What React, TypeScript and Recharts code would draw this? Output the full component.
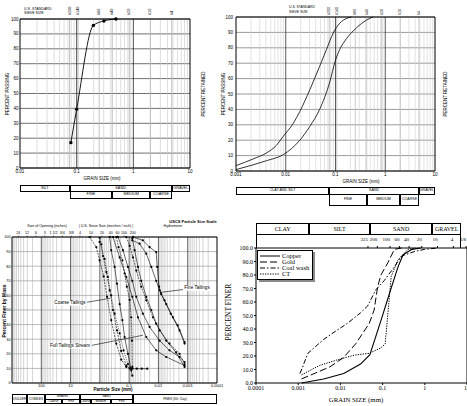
import React from 'react'
import { LineChart, Line, XAxis, YAxis, CartesianGrid, ReferenceLine, Legend } from 'recharts'

const SANS = '"Liberation Sans", Arial, Helvetica, sans-serif'
const SERIF = '"Liberation Serif", "Times New Roman", Times, serif'

// ── shared ───────────────────────────────────────────────────────────────────
type Pair = [number, number]
const PCT_TICKS = [0, 10, 20, 30, 40, 50, 60, 70, 80, 90, 100]

// ── top-left: single sample gradation ────────────────────────────────────────
const SIEVE_MM = [0.075, 0.106, 0.25, 0.425, 0.85, 2, 4.75]
const SIEVE_NAMES = ['#200', '#140', '#60', '#40', '#20', '#10', '#4']
const TL_X_TICKS = [0.01, 0.1, 1, 10]
const TL_SAMPLE: Pair[] = [[0.079, 17], [0.1, 39.5], [0.197, 95.7], [0.303, 98.7], [0.493, 100]]

// ── top-right: two gradation curves ──────────────────────────────────────────
const TR_X_TICKS = [0.001, 0.01, 0.1, 1, 10]
const TR_FINE: Pair[] = [
  [0.001, 3.5], [0.0022, 7.8], [0.0041, 11.7], [0.0065, 16.7], [0.0089, 22.5], [0.0142, 31],
  [0.0192, 38.7], [0.0305, 52.8], [0.048, 68], [0.066, 79], [0.09, 89.6], [0.122, 96],
  [0.17, 99.2], [0.21, 100],
]
const TR_COARSE: Pair[] = [
  [0.001, 0.9], [0.0022, 4], [0.0041, 6.7], [0.0089, 10.6], [0.0192, 20], [0.0305, 29],
  [0.048, 40], [0.077, 58], [0.098, 71], [0.122, 79], [0.167, 86], [0.265, 93], [0.42, 98],
  [0.57, 100],
]

// ── bottom-left: tailings, USCS scale (reversed axis) ────────────────────────
const BL_X_TICKS = [100, 10, 0.1, 0.01, 0.001, 0.0001]
const OPENING_MM = [609.6, 304.8, 152.4, 76.2, 38.1, 19.05, 9.525, 4.75, 2, 0.85, 0.425, 0.25, 0.15, 0.075]
const OPENING_LABELS = ['24', '12', '6', '3', '1 1/2', '3/4', '3/8', '4', '10', '20', '40', '60', '100', '200']
const COARSE_1: Pair[] = [[2.23, 100], [1.32, 93], [1.02, 84], [0.74, 73], [0.57, 59], [0.41, 43], [0.275, 27], [0.186, 16], [0.125, 11]]
const COARSE_2: Pair[] = [[1.02, 99.5], [0.89, 95], [0.78, 87], [0.6, 76], [0.46, 63.5], [0.357, 50], [0.26, 36], [0.186, 22], [0.125, 12], [0.096, 10]]
const COARSE_3: Pair[] = [[1.02, 96.6], [0.69, 85], [0.53, 72.6], [0.41, 60], [0.313, 47.5], [0.211, 34], [0.155, 22.4], [0.11, 13], [0.085, 10]]
const COARSE_4: Pair[] = [[0.46, 100], [0.41, 91], [0.313, 79.5], [0.26, 68], [0.211, 54], [0.17, 43], [0.143, 31.5], [0.11, 20], [0.085, 8.7], [0.078, 5]]
const COARSE_5: Pair[] = [[0.275, 100], [0.23, 93], [0.17, 84], [0.143, 75], [0.12, 66], [0.096, 57], [0.085, 45], [0.08, 29], [0.078, 11]]
const COARSE_TAIL: Pair[] = [[0.078, 9.8], [0.055, 9.8], [0.037, 9.8], [0.024, 9.8]]
const MIXED_1: Pair[] = [[0.357, 100], [0.211, 86], [0.125, 72.6], [0.078, 59], [0.05, 45], [0.026, 31.5], [0.0119, 22.4], [0.0054, 17.8], [0.00128, 12]]
const FULL_1: Pair[] = [[0.241, 100], [0.163, 91], [0.11, 79.5], [0.078, 70], [0.057, 59], [0.034, 47.5], [0.02, 38.4], [0.0091, 29], [0.0042, 22.4], [0.0019, 17.8], [0.00128, 14.4]]
const FULL_2: Pair[] = [[0.125, 100], [0.096, 94], [0.074, 86], [0.057, 77], [0.0386, 66], [0.026, 56.6], [0.0154, 45], [0.0091, 36], [0.0042, 27], [0.0019, 20], [0.00128, 13]]
const FULL_3: Pair[] = [[0.078, 99], [0.065, 91], [0.05, 79.5], [0.0386, 70], [0.026, 59], [0.0175, 50], [0.0119, 40.6], [0.0054, 29], [0.0025, 21], [0.00128, 11]]
const FINE_1: Pair[] = [[0.074, 100], [0.034, 97.7], [0.02, 93], [0.0119, 89.7], [0.011, 79.5], [0.0095, 66], [0.0081, 61], [0.0054, 54], [0.0032, 45], [0.0019, 36], [0.00128, 27]]
const FINE_2: Pair[] = [[0.078, 97.7], [0.044, 95.4], [0.026, 88.6], [0.0175, 79.5], [0.0119, 70], [0.0091, 63.5], [0.0062, 56.6], [0.0038, 47.5], [0.0022, 39.5], [0.00128, 28]]

// ── bottom-right: tailings by ore type ───────────────────────────────────────
const BR_X_TICKS = [0.0001, 0.001, 0.01, 0.1, 1, 10]
const BR_SIEVE_MM = [0.045, 0.075, 0.15, 0.25, 0.425, 0.85, 2, 4.75, 9.5]
const BR_SIEVE_NAMES = ['325', '200', '100', '60', '40', '20', '10', '4', '3/8']
const COPPER: Pair[] = [[0.0012, 0], [0.004, 3], [0.012, 7], [0.03, 14], [0.05, 21], [0.092, 46.6], [0.146, 66.5], [0.232, 86], [0.306, 95], [0.5, 99], [0.8, 100]]
const GOLD: Pair[] = [[0.0012, 3], [0.0057, 12], [0.012, 19], [0.023, 29], [0.048, 44], [0.063, 54], [0.076, 71], [0.091, 80], [0.133, 89], [0.19, 99], [0.28, 100]]
const COAL_WASH: Pair[] = [[0.0011, 7], [0.0017, 22], [0.0039, 32], [0.0082, 39], [0.0144, 44], [0.03, 52], [0.044, 57], [0.069, 69], [0.11, 76], [0.19, 86], [0.28, 94], [0.58, 97.5], [1, 99], [2, 100]]
const CT: Pair[] = [[0.0012, 6], [0.0032, 13], [0.0082, 17], [0.021, 20.6], [0.048, 22], [0.091, 26], [0.115, 29], [0.16, 79], [0.23, 91], [0.4, 99], [0.6, 100]]

// ─────────────────────────────────────────────────────────────────────────────

const pts = (a: Pair[]) => a.map(([x, y]) => ({ x, y }))
const logPos = (v: number, d0: number, d1: number, p0: number, p1: number) =>
  p0 + ((Math.log10(v) - Math.log10(d0)) / (Math.log10(d1) - Math.log10(d0))) * (p1 - p0)

function minorLines(lo: number, hi: number) {
  const out: number[] = []
  for (let e = Math.floor(Math.log10(lo)); e < Math.ceil(Math.log10(hi)); e++) {
    for (let m = 2; m <= 9; m++) {
      const v = Number((m * Math.pow(10, e)).toPrecision(4))
      if (v > lo && v < hi) out.push(v)
    }
  }
  return out
}
function decadeLines(lo: number, hi: number) {
  const out: number[] = []
  for (let e = Math.round(Math.log10(lo)) + 1; e < Math.round(Math.log10(hi)); e++) out.push(Number(Math.pow(10, e).toPrecision(4)))
  return out
}

const frame = { stroke: '#000', strokeWidth: 1 }
const tickSans = { fontSize: 4.5, fill: '#000', fontFamily: SANS }

const rotatedTick = (values: number[], names: string[], size: number) => (p: any) => (
  <text
    transform={`translate(${p.x},${p.y}) rotate(-90)`}
    fontSize={size}
    fontFamily={SANS}
    textAnchor="start"
    dominantBaseline="central"
    fill="#000"
  >
    {names[values.indexOf(p.payload.value)]}
  </text>
)

const flatTick = (values: number[], names: string[], size: number, font: string, anchor: string) => (p: any) => (
  <text x={p.x} y={p.y} fontSize={size} fontFamily={font} textAnchor={anchor} fill="#000">
    {names[values.indexOf(p.payload.value)]}
  </text>
)

function Txt({ x, y, size, children, font = SANS, rot = 0, bold = false, anchor = 'middle', bg }: any) {
  const tx = anchor === 'middle' ? '-50%' : '0'
  return (
    <div
      style={{
        position: 'absolute', left: x, top: y, transform: `translate(${tx},-50%) rotate(${rot}deg)`,
        fontSize: size, fontFamily: font, fontWeight: bold ? 'bold' : 'normal', whiteSpace: 'nowrap',
        lineHeight: 1, color: '#000', background: bg, padding: bg ? '0 1px' : 0,
      }}
    >
      {children}
    </div>
  )
}

function Box({ x0, x1, y0, y1, text, size, font = SANS, style }: any) {
  return (
    <div
      style={{
        position: 'absolute', left: x0, top: y0, width: x1 - x0, height: y1 - y0,
        border: '1px solid #000', boxSizing: 'border-box', display: 'flex', alignItems: 'center',
        justifyContent: 'center', fontSize: size, fontFamily: font, lineHeight: 1, whiteSpace: 'nowrap',
        overflow: 'hidden', background: '#fff', ...style,
      }}
    >
      {text}
    </div>
  )
}

// ── top-left panel ───────────────────────────────────────────────────────────
const tlX = (v: number) => logPos(v, 0.01, 10, 20, 190)

function TopLeft() {
  return (
    <>
      <div style={{ position: 'absolute', left: 0, top: 0 }}>
        <LineChart width={215} height={200} margin={{ top: 0, right: 0, bottom: 0, left: 0 }}>
          <CartesianGrid vertical={false} stroke="#333" strokeWidth={0.7} />
          {minorLines(0.01, 10).map((v) => <ReferenceLine key={`m${v}`} x={v} stroke="#c8c8c8" strokeWidth={0.6} />)}
          {SIEVE_MM.map((v) => <ReferenceLine key={`s${v}`} x={v} stroke="#b4b4b4" strokeWidth={0.8} />)}
          {decadeLines(0.01, 10).map((v) => <ReferenceLine key={`d${v}`} x={v} stroke="#222" strokeWidth={0.8} />)}
          <XAxis dataKey="x" type="number" scale="log" domain={[0.01, 10]} allowDataOverflow ticks={TL_X_TICKS} interval={0}
            height={32} tickLine={false} tickSize={0} tickMargin={2} tick={tickSans} axisLine={frame} />
          <XAxis xAxisId="top" orientation="top" dataKey="x" type="number" scale="log" domain={[0.01, 10]} allowDataOverflow
            ticks={SIEVE_MM} interval={0} height={19} tickLine={false} tickSize={0} tickMargin={4}
            tick={rotatedTick(SIEVE_MM, SIEVE_NAMES, 3.8)} axisLine={frame} />
          <YAxis type="number" domain={[0, 100]} ticks={PCT_TICKS} interval={0} width={20} tickLine={false} tickSize={0}
            tickMargin={1.5} tick={tickSans} axisLine={frame} />
          <YAxis yAxisId="r" orientation="right" type="number" domain={[0, 100]} reversed ticks={PCT_TICKS} interval={0}
            width={25} tickLine={false} tickSize={0} tickMargin={2.5} tick={tickSans} axisLine={frame} />
          <Line data={pts(TL_SAMPLE)} dataKey="y" type="monotone" stroke="#000" strokeWidth={0.9}
            dot={{ r: 1.7, fill: '#000', stroke: 'none' }} isAnimationActive={false} />
        </LineChart>
      </div>
      <Txt x={24} y={10} size={3.6} anchor="start">U.S. STANDARD</Txt>
      <Txt x={24} y={14} size={3.6} anchor="start">SIEVE SIZE</Txt>
      <Txt x={8} y={94} size={4.5} rot={-90}>PERCENT PASSING</Txt>
      <Txt x={204} y={94} size={4.5} rot={-90}>PERCENT RETAINED</Txt>
      <Txt x={102} y={178.5} size={4.5}>GRAIN SIZE (mm)</Txt>
      <Box x0={20} x1={tlX(0.075)} y0={185} y1={192} text="SILT" size={3.8} />
      <Box x0={tlX(0.075)} x1={tlX(4.75)} y0={185} y1={192} text="SAND" size={3.8} />
      <Box x0={tlX(4.75)} x1={190} y0={185} y1={192} text="GRAVEL" size={3.8} />
      <Box x0={tlX(0.075)} x1={tlX(0.425)} y0={191} y1={199} text="FINE" size={3.8} />
      <Box x0={tlX(0.425)} x1={tlX(2)} y0={191} y1={199} text="MEDIUM" size={3.8} />
      <Box x0={tlX(2)} x1={tlX(4.75)} y0={191} y1={199} text="COARSE" size={3.8} />
    </>
  )
}

// ── top-right panel ──────────────────────────────────────────────────────────
const trX = (v: number) => logPos(v, 0.001, 10, 236, 435)

function TopRight() {
  return (
    <>
      <div style={{ position: 'absolute', left: 215, top: 0 }}>
        <LineChart width={252} height={200} margin={{ top: 0, right: 0, bottom: 0, left: 0 }}>
          <CartesianGrid vertical={false} stroke="#555" strokeWidth={0.6} />
          {minorLines(0.001, 10).map((v) => <ReferenceLine key={`m${v}`} x={v} stroke="#d0d0d0" strokeWidth={0.6} />)}
          {SIEVE_MM.map((v) => <ReferenceLine key={`s${v}`} x={v} stroke="#bdbdbd" strokeWidth={0.8} />)}
          {decadeLines(0.001, 10).map((v) => <ReferenceLine key={`d${v}`} x={v} stroke="#333" strokeWidth={0.8} />)}
          <XAxis dataKey="x" type="number" scale="log" domain={[0.001, 10]} allowDataOverflow ticks={TR_X_TICKS} interval={0}
            height={29} tickLine={false} tickSize={0} tickMargin={1.5} tick={tickSans} axisLine={frame} />
          <XAxis xAxisId="top" orientation="top" dataKey="x" type="number" scale="log" domain={[0.001, 10]} allowDataOverflow
            ticks={SIEVE_MM} interval={0} height={17} tickLine={false} tickSize={0} tickMargin={2}
            tick={rotatedTick(SIEVE_MM, SIEVE_NAMES, 3.6)} axisLine={frame} />
          <YAxis type="number" domain={[0, 100]} ticks={PCT_TICKS} interval={0} width={21} tickLine={false} tickSize={0}
            tickMargin={3} tick={tickSans} axisLine={frame} />
          <YAxis yAxisId="r" orientation="right" type="number" domain={[0, 100]} reversed ticks={PCT_TICKS} interval={0}
            width={32} tickLine={false} tickSize={0} tickMargin={1.5} tick={tickSans} axisLine={frame} />
          <Line data={pts(TR_FINE)} dataKey="y" type="monotone" stroke="#000" strokeWidth={0.8} dot={false} isAnimationActive={false} />
          <Line data={pts(TR_COARSE)} dataKey="y" type="monotone" stroke="#000" strokeWidth={0.8} dot={false} isAnimationActive={false} />
        </LineChart>
      </div>
      <Txt x={289} y={8} size={3.4} anchor="start">U.S. STANDARD</Txt>
      <Txt x={289} y={12.5} size={3.4} anchor="start">SIEVE SIZE</Txt>
      <Txt x={224} y={94} size={4.5} rot={-90}>PERCENT PASSING</Txt>
      <Txt x={446} y={94} size={4.5} rot={-90}>PERCENT RETAINED</Txt>
      <Txt x={361} y={181.5} size={4.5}>GRAIN SIZE (mm)</Txt>
      <Box x0={236} x1={trX(0.075)} y0={187} y1={195} text="CLAY AND SILT" size={3.6} />
      <Box x0={trX(0.075)} x1={trX(4.75)} y0={187} y1={195} text="SAND" size={3.6} />
      <Box x0={trX(4.75)} x1={435} y0={187} y1={195} text="GRAVEL" size={3.6} />
      <Box x0={trX(0.075)} x1={trX(0.425)} y0={194} y1={206} text="FINE" size={3.6} />
      <Box x0={trX(0.425)} x1={trX(2)} y0={194} y1={206} text="MEDIUM" size={3.6} />
      <Box x0={trX(2)} x1={trX(4.75)} y0={194} y1={206} text="COARSE" size={3.6} />
    </>
  )
}

// ── bottom-left panel ────────────────────────────────────────────────────────
const blX = (v: number) => logPos(v, 1000, 0.0001, 12, 217)

const BL_SERIES = [
  { id: 'c1', data: COARSE_1, dash: '2 1' },
  { id: 'c2', data: COARSE_2, dash: '2 1' },
  { id: 'c3', data: COARSE_3, dash: '1 1' },
  { id: 'c4', data: COARSE_4, dash: undefined },
  { id: 'c5', data: COARSE_5, dash: '2 1' },
  { id: 'ct', data: COARSE_TAIL, dash: undefined },
  { id: 'm1', data: MIXED_1, dash: undefined },
  { id: 'f1', data: FULL_1, dash: undefined },
  { id: 'f2', data: FULL_2, dash: '2 1' },
  { id: 'f3', data: FULL_3, dash: undefined },
  { id: 'n1', data: FINE_1, dash: undefined },
  { id: 'n2', data: FINE_2, dash: undefined },
]

function BottomLeft() {
  return (
    <>
      <div style={{ position: 'absolute', left: 0, top: 200 }}>
        <LineChart width={233} height={206} margin={{ top: 0, right: 0, bottom: 0, left: 0 }}>
          <CartesianGrid vertical={false} stroke="#777" strokeWidth={0.5} />
          {minorLines(0.0001, 1000).map((v) => <ReferenceLine key={`m${v}`} x={v} stroke="#a8a8a8" strokeWidth={0.5} />)}
          {decadeLines(0.0001, 1000).map((v) => <ReferenceLine key={`d${v}`} x={v} stroke="#222" strokeWidth={0.7} />)}
          <XAxis dataKey="x" type="number" scale="log" domain={[0.0001, 1000]} reversed allowDataOverflow ticks={BL_X_TICKS}
            interval={0} height={23} tickLine={false} tickSize={0} tickMargin={1} tick={{ ...tickSans, fontSize: 4 }} axisLine={frame} />
          <XAxis xAxisId="top" orientation="top" dataKey="x" type="number" scale="log" domain={[0.0001, 1000]} reversed
            allowDataOverflow ticks={OPENING_MM} interval={0} height={37} tickSize={1.5} tickMargin={1.5}
            tickLine={{ stroke: '#000', strokeWidth: 0.5 }}
            tick={flatTick(OPENING_MM, OPENING_LABELS, 3.6, SANS, 'middle')} axisLine={frame} />
          <YAxis type="number" domain={[0, 100]} ticks={PCT_TICKS} interval={0} width={12} tickLine={false} tickSize={0}
            tickMargin={1.5} tick={{ ...tickSans, fontSize: 3.8 }} axisLine={frame} />
          <YAxis yAxisId="r" orientation="right" type="number" domain={[0, 100]} width={16} tick={false} tickLine={false} axisLine={frame} />
          <ReferenceLine segment={[{ x: 2.75, y: 55.3 }, { x: 0.45, y: 58 }]} stroke="#000" strokeWidth={0.6} />
          <ReferenceLine segment={[{ x: 0.00145, y: 64 }, { x: 0.0089, y: 62 }]} stroke="#000" strokeWidth={0.6} />
          <ReferenceLine segment={[{ x: 1.86, y: 25.8 }, { x: 0.034, y: 32.7 }]} stroke="#000" strokeWidth={0.6} />
          {BL_SERIES.map((s) => (
            <Line key={s.id} data={pts(s.data)} dataKey="y" type="linear" stroke="#000" strokeWidth={0.6}
              strokeDasharray={s.dash} dot={{ r: 1.1, fill: '#000', stroke: 'none' }} isAnimationActive={false} />
          ))}
        </LineChart>
      </div>
      <Txt x={193} y={222} size={4} bold>USCS Particle Size Scale</Txt>
      <Txt x={47} y={227} size={3.6}>Size of Opening (inches)</Txt>
      <Txt x={106} y={227} size={3.6}>| U.S. Sieve Size (meshes / inch) |</Txt>
      <Txt x={173} y={227} size={3.6}>Hydrometer</Txt>
      <Txt x={4} y={311} size={5} rot={-90} bold>Percent Finer by Mass</Txt>
      <Txt x={113} y={390} size={4.5} bold>Particle Size (mm)</Txt>
      <Txt x={70} y={303} size={4.6} bg="#fff">Coarse Tailings</Txt>
      <Txt x={197} y={288} size={4.6} bg="#fff">Fine Tailings</Txt>
      <Txt x={70} y={346} size={4.6} bg="#fff">Full Tailings Stream</Txt>
      <Box x0={12} x1={blX(300)} y0={394} y1={404} text="BOULDERS" size={3} />
      <Box x0={blX(300)} x1={blX(76.2)} y0={394} y1={404} text="COBBLES" size={3} />
      <Box x0={blX(76.2)} x1={blX(4.75)} y0={394} y1={399.5} text="GRAVEL" size={3} />
      <Box x0={blX(76.2)} x1={blX(19)} y0={399} y1={404} text="Coarse" size={3} />
      <Box x0={blX(19)} x1={blX(4.75)} y0={399} y1={404} text="Fine" size={3} />
      <Box x0={blX(4.75)} x1={blX(0.075)} y0={394} y1={399.5} text="SAND" size={3} />
      <Box x0={blX(4.75)} x1={blX(2)} y0={399} y1={404} text="Coarse" size={3} />
      <Box x0={blX(2)} x1={blX(0.425)} y0={399} y1={404} text="Medium" size={3} />
      <Box x0={blX(0.425)} x1={blX(0.075)} y0={399} y1={404} text="Fine" size={3} />
      <Box x0={blX(0.075)} x1={217} y0={394} y1={404} text="FINES (Silt, Clay)" size={3} />
    </>
  )
}

// ── bottom-right panel ───────────────────────────────────────────────────────
const brX = (v: number) => logPos(v, 0.0001, 10, 256, 461)

const TAILINGS = [
  { name: 'Copper', data: COPPER, dash: undefined, w: 1.1 },
  { name: 'Gold', data: GOLD, dash: '7 3', w: 1 },
  { name: 'Coal wash', data: COAL_WASH, dash: '5 2 1.5 2', w: 1 },
  { name: 'CT', data: CT, dash: '1.3 1.2', w: 1 },
]

function TailingsKey() {
  return (
    <div style={{
      border: '1px solid #000', background: '#fff', boxShadow: '2px 2px 0 #8a8a8a',
      padding: '2px 3px 2px 2px', fontFamily: SERIF, fontSize: 6.5, lineHeight: '6px', color: '#000',
    }}>
      {TAILINGS.map((s) => (
        <div key={s.name} style={{ display: 'flex', alignItems: 'center' }}>
          <svg width={20} height={6}>
            <line x1={0} y1={3} x2={20} y2={3} stroke="#000" strokeWidth={1} strokeDasharray={s.dash} />
          </svg>
          <span style={{ marginLeft: 2 }}>{s.name}</span>
        </div>
      ))}
    </div>
  )
}

const tickSerif = { fontSize: 6, fill: '#000', fontFamily: SERIF }

function BottomRight() {
  return (
    <>
      <Box x0={256} x1={brX(0.002)} y0={223} y1={235} text="CLAY" size={6} font={SERIF} />
      <Box x0={brX(0.002)} x1={brX(0.06)} y0={223} y1={235} text="SILT" size={6} font={SERIF} />
      <Box x0={brX(0.06)} x1={brX(2)} y0={223} y1={235} text="SAND" size={6} font={SERIF} />
      <Box x0={brX(2)} x1={461} y0={223} y1={235} text="GRAVEL" size={6} font={SERIF} />
      <div style={{ position: 'absolute', left: 256, top: 234, width: 205, height: 14, borderLeft: '1px solid #000', borderRight: '1px solid #000', boxSizing: 'border-box' }} />
      <div style={{ position: 'absolute', left: 218, top: 200 }}>
        <LineChart width={249} height={206} margin={{ top: 0, right: 0, bottom: 0, left: 0 }}>
          <XAxis dataKey="x" type="number" scale="log" domain={[0.0001, 10]} allowDataOverflow ticks={BR_X_TICKS} interval={0}
            height={23} tickSize={2} tickMargin={1} tickLine={{ stroke: '#000' }} tick={tickSerif} axisLine={frame} />
          <XAxis xAxisId="top" orientation="top" dataKey="x" type="number" scale="log" domain={[0.0001, 10]} allowDataOverflow
            ticks={BR_SIEVE_MM} interval={0} height={48} tickSize={2} tickMargin={5} tickLine={{ stroke: '#000' }}
            tick={flatTick(BR_SIEVE_MM, BR_SIEVE_NAMES, 5, SERIF, 'end')} axisLine={frame} />
          <YAxis type="number" domain={[0, 100]} ticks={PCT_TICKS} interval={0} width={38} tickSize={2} tickMargin={1}
            tickLine={{ stroke: '#000' }} tick={tickSerif} tickFormatter={(v: number) => v.toFixed(1)} axisLine={frame} />
          <YAxis yAxisId="r" orientation="right" type="number" domain={[0, 100]} ticks={PCT_TICKS} interval={0} width={6}
            mirror tickSize={3} tick={false} tickLine={{ stroke: '#000' }} axisLine={frame} />
          <Legend layout="vertical" align="center" verticalAlign="middle"
            wrapperStyle={{ left: 39, top: 50, width: 'auto', height: 'auto' }} content={() => <TailingsKey />} />
          {TAILINGS.map((s) => (
            <Line key={s.name} name={s.name} data={pts(s.data)} dataKey="y" type="linear" stroke="#000" strokeWidth={s.w}
              strokeDasharray={s.dash} dot={false} isAnimationActive={false} />
          ))}
        </LineChart>
      </div>
      <Txt x={229} y={312} size={7.5} font={SERIF} rot={-90}>PERCENT FINER</Txt>
      <Txt x={356} y={400} size={6.8} font={SERIF}>GRAIN SIZE (mm)</Txt>
    </>
  )
}

export default function App() {
  return (
    <div style={{ position: 'absolute', left: 0, top: 0, width: 467, height: 406, background: '#fff', overflow: 'hidden' }}>
      <TopLeft />
      <TopRight />
      <BottomLeft />
      <BottomRight />
    </div>
  )
}
